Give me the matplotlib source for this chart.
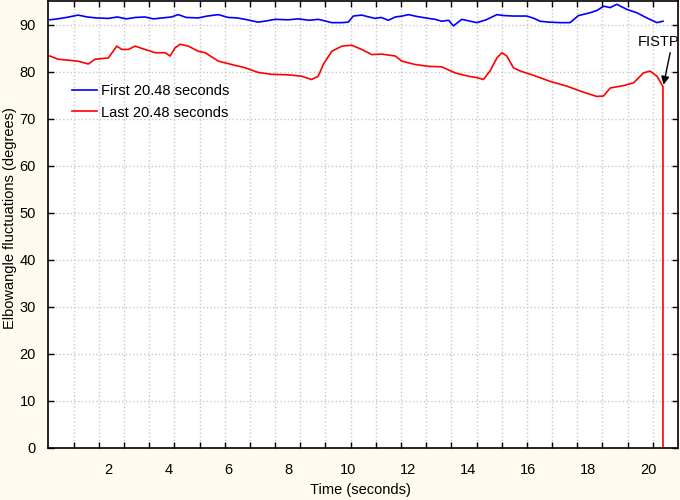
import matplotlib
matplotlib.use('Agg')
import matplotlib.pyplot as plt
import numpy as np

plt.rcParams['font.family'] = ['Liberation Sans', 'DejaVu Sans']

# first 20.48 s (blue)
first_t = [0.05, 0.3, 0.6, 0.99, 1.3, 1.6, 2.0, 2.3, 2.6, 2.9, 3.22, 3.5, 3.8, 4.1, 4.33,
           4.6, 5.0, 5.3, 5.67, 6.0, 6.3, 6.56, 7.0, 7.3, 7.56, 8.0, 8.34, 8.7, 9.0, 9.2,
           9.45, 9.8, 10.0, 10.17, 10.45, 10.7, 10.9, 11.1, 11.34, 11.57, 11.8, 12.01, 12.3,
           12.68, 12.9, 13.12, 13.35, 13.51, 13.79, 14.0, 14.29, 14.6, 14.96, 15.2, 15.51,
           15.96, 16.2, 16.4, 16.7, 17.07, 17.4, 17.68, 18.07, 18.3, 18.52, 18.74, 18.96,
           19.3, 19.63, 19.96, 20.3, 20.5]
first_v = [91.0, 91.2, 91.5, 92.0, 91.6, 91.4, 91.3, 91.6, 91.2, 91.5, 91.6, 91.2, 91.4, 91.6, 92.1,
           91.5, 91.4, 91.8, 92.1, 91.5, 91.4, 91.1, 90.5, 90.8, 91.1, 91.0, 91.2, 90.9, 91.1, 90.8,
           90.4, 90.4, 90.5, 91.8, 92.0, 91.6, 91.3, 91.5, 90.9, 91.6, 91.8, 92.1, 91.7,
           91.3, 91.1, 90.7, 90.9, 89.7, 91.1, 90.8, 90.4, 91.0, 92.1, 91.9, 91.8,
           91.8, 91.3, 90.7, 90.5, 90.4, 90.4, 91.9, 92.5, 93.0, 93.9, 93.6, 94.3,
           93.2, 92.5, 91.4, 90.4, 90.7]

# last 20.48 s (red)
last_t = [0.05, 0.33, 0.7, 0.99, 1.33, 1.55, 2.0, 2.28, 2.45, 2.67, 2.89, 3.22, 3.56, 3.89,
          4.06, 4.22, 4.39, 4.67, 5.0, 5.23, 5.67, 6.11, 6.56, 7.0, 7.45, 8.0, 8.45, 8.78,
          9.0, 9.17, 9.45, 9.79, 10.12, 10.45, 10.79, 11.12, 11.57, 11.79, 12.23, 12.68,
          13.12, 13.57, 14.01, 14.3, 14.51, 14.73, 14.96, 15.13, 15.29, 15.51, 15.74, 16.18,
          16.74, 17.29, 17.85, 18.29, 18.52, 18.74, 19.18, 19.52, 19.85, 20.07, 20.3, 20.5,
          20.5]
last_v = [83.3, 82.6, 82.4, 82.2, 81.6, 82.6, 82.9, 85.4, 84.7, 84.7, 85.4, 84.7, 84.0, 84.0,
          83.3, 85.0, 85.8, 85.4, 84.3, 84.0, 82.2, 81.5, 80.8, 79.8, 79.4, 79.3, 79.0, 78.3,
          79.0, 81.5, 84.3, 85.4, 85.6, 84.7, 83.6, 83.7, 83.3, 82.2, 81.5, 81.1,
          81.0, 79.7, 79.0, 78.7, 78.3, 80.1, 82.9, 84.0, 83.3, 80.8, 80.1, 79.2,
          77.9, 76.9, 75.6, 74.7, 74.8, 76.5, 77.0, 77.6, 79.7, 80.1, 79.0, 76.8,
          0.0]

xlabels = [2, 4, 6, 8, 10, 12, 14, 16, 18, 20]
ylabels = [0, 10, 20, 30, 40, 50, 60, 70, 80, 90]

fig = plt.figure(figsize=(6.8, 5.0), dpi=100, facecolor='#fffbf0')
ax = fig.add_axes([0.0712, 0.1046, 0.9258, 0.8934])
ax.set_facecolor('white')

ax.plot(first_t, first_v, color='#0000ff', lw=1.2, label='First 20.48 seconds')
ax.plot(last_t, last_v, color='#ff0000', lw=1.2, label='Last 20.48 seconds')

ax.set_xlim(0, 21)
ax.set_ylim(0, 95)

# labels at even seconds, grid/ticks on a separate spacing
ax.set_xticks(xlabels)
ax.set_xticks(np.arange(1, 25) * 21 / 25, minor=True)
ax.set_yticks(ylabels)
ax.tick_params(axis='x', which='major', length=0, pad=11, labelsize=10.5)
ax.tick_params(axis='x', which='minor', direction='in', length=4, width=1,
               top=True, bottom=True)
ax.tick_params(axis='y', which='major', direction='in', length=4, width=1,
               left=True, right=True, pad=9, labelsize=10.5)
ax.grid(True, which='minor', axis='x', color='#c8c8c8', ls=':', lw=1)
ax.grid(True, which='major', axis='y', color='#c8c8c8', ls=':', lw=1)
ax.set_axisbelow(True)
for s in ax.spines.values():
    s.set_linewidth(1.2)

ax.set_xlabel('Time (seconds)', fontsize=10.5, va='center')
ax.xaxis.set_label_coords(0.495, -0.095)
ax.set_ylabel('Elbowangle fluctuations (degrees)', fontsize=10.5, va='center')
ax.yaxis.set_label_coords(-0.061, 0.514)

ax.legend(loc='center left', bbox_to_anchor=(0.0375, 0.774), frameon=False,
          fontsize=10.5, handlelength=1.7, handletextpad=0.3, labelspacing=0.5,
          borderpad=0, borderaxespad=0)

ax.text(20.34, 86.2, 'FISTP', fontsize=10.5, ha='center', va='center')
ax.annotate('', xy=(20.52, 77.2), xytext=(20.74, 84.0),
            arrowprops=dict(arrowstyle='-|>', color='black', lw=1,
                            shrinkA=0, shrinkB=0, mutation_scale=12))

fig.savefig('out.png', dpi=100, facecolor=fig.get_facecolor())
